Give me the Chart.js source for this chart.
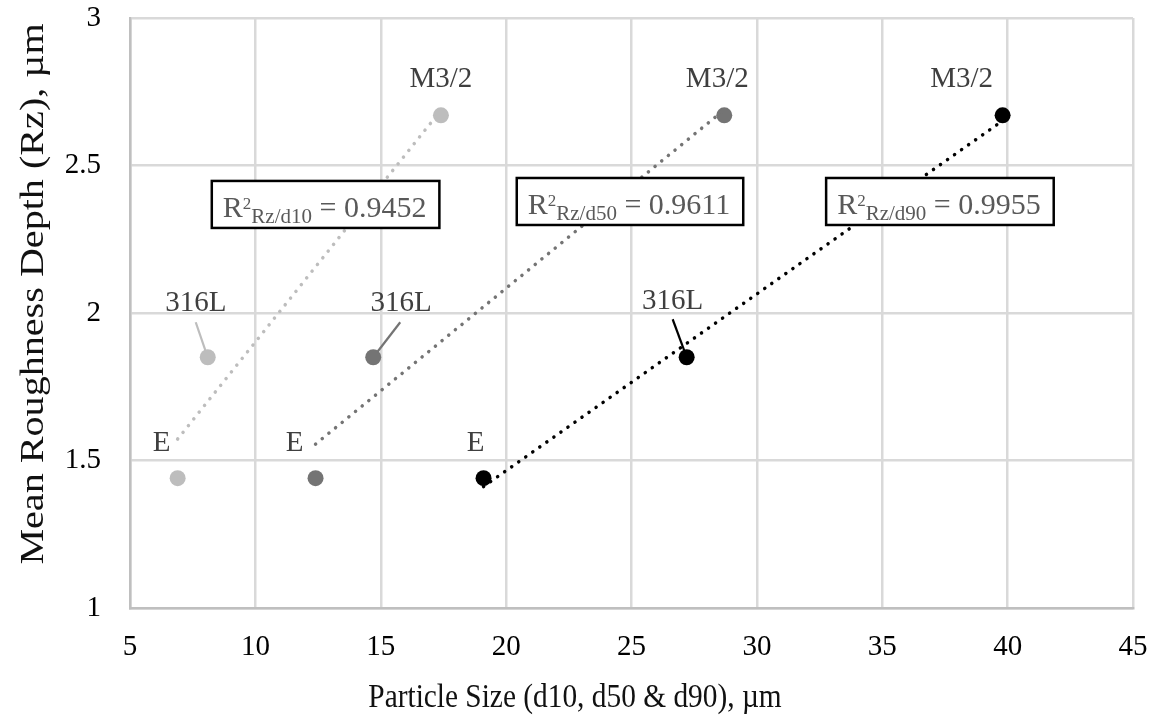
<!DOCTYPE html>
<html>
<head>
<meta charset="utf-8">
<script src="https://cdn.jsdelivr.net/npm/chart.js@4.4.0/dist/chart.umd.min.js"></script>
<style>
  html, body { margin: 0; padding: 0; background: #fff; }
  #wrap { width: 1153px; height: 718px; }
</style>
</head>
<body>
<div id="wrap"><canvas id="roughChart"></canvas></div>
<script>
// powders and their mean roughness depth Rz (um)
const powders = ["E", "316L", "M3/2"];
const roughnessRz = [1.44, 1.85, 2.67];

// particle size of each powder, um
const sizeD10 = [6.9, 8.1, 17.4];
const sizeD50 = [12.4, 14.7, 28.7];
const sizeD90 = [19.1, 27.2, 39.8];

// fit annotations
const fitNames = ["Rz/d10", "Rz/d50", "Rz/d90"];
const fitR2 = ["0.9452", "0.9611", "0.9955"];

const FONT = '"Liberation Serif", "Times New Roman", serif';
const seriesColors = ["#bdbdbd", "#747474", "#000000"];
const textGrey = "#3f3f3f";

// where the point labels sit, relative to each point (baseline centre)
const labelOffsets = [
  [[-16, -27], [-12, -46], [0, -28]],
  [[-21, -27], [28, -46], [-7, -28]],
  [[-8, -27], [-14, -48], [-41, -28]]
];
// start of the leader line drawn for the 316L labels
const leaderStarts = [[-12, -35], [27, -35], [-14, -38]];
// R² boxes, centred at these axis values
const boxCentres = [[12.8, 2.368], [24.94, 2.378], [37.3, 2.378]];

const sizeSets = [sizeD10, sizeD50, sizeD90];

// least squares line over the range of the data
function trend(xs, ys) {
  const n = xs.length;
  const mx = xs.reduce((a, b) => a + b, 0) / n;
  const my = ys.reduce((a, b) => a + b, 0) / n;
  let sxy = 0, sxx = 0;
  for (let i = 0; i < n; i++) {
    sxy += (xs[i] - mx) * (ys[i] - my);
    sxx += (xs[i] - mx) * (xs[i] - mx);
  }
  const k = sxy / sxx;
  const lo = Math.min(...xs), hi = Math.max(...xs);
  return [{ x: lo, y: my + k * (lo - mx) }, { x: hi, y: my + k * (hi - mx) }];
}

const datasets = [];
sizeSets.forEach((xs, i) => {
  datasets.push({
    type: "line",
    data: trend(xs, roughnessRz),
    borderColor: seriesColors[i],
    borderWidth: 3.5,
    borderDash: [0.1, 8.5],
    borderCapStyle: "round",
    pointRadius: 0,
    fill: false
  });
  datasets.push({
    type: "scatter",
    data: xs.map((x, j) => ({ x: x, y: roughnessRz[j] })),
    backgroundColor: seriesColors[i],
    borderWidth: 0,
    pointRadius: 8
  });
});

function drawR2Box(ctx, cx, cy, name, value) {
  const big = "30px " + FONT, sup = "17px " + FONT, sub = "21px " + FONT;
  ctx.font = big; const wR = ctx.measureText("R").width;
  ctx.font = sup; const w2 = ctx.measureText("2").width;
  ctx.font = sub; const wSub = ctx.measureText(name).width;
  ctx.font = big; const wVal = ctx.measureText(" = " + value).width;
  const textW = wR + w2 + wSub + wVal;
  const bw = textW + 24, bh = 47;
  const left = cx - bw / 2, top = cy - bh / 2;
  ctx.fillStyle = "#fff";
  ctx.fillRect(left, top, bw, bh);
  ctx.strokeStyle = "#000";
  ctx.lineWidth = 2.5;
  ctx.strokeRect(left, top, bw, bh);
  const base = top + 36;
  let x = left + 11;
  ctx.fillStyle = "#595959";
  ctx.textAlign = "left";
  ctx.textBaseline = "alphabetic";
  ctx.font = big; ctx.fillText("R", x, base); x += wR;
  ctx.font = sup; ctx.fillText("2", x, base - 8); x += w2;
  ctx.font = sub; ctx.fillText(name, x, base + 6); x += wSub;
  ctx.font = big; ctx.fillText(" = " + value, x, base);
}

const annotations = {
  id: "annotations",
  afterDatasetsDraw(chart) {
    const ctx = chart.ctx;
    const xs = chart.scales.x, ys = chart.scales.y;
    ctx.save();
    sizeSets.forEach((sizes, i) => {
      sizes.forEach((v, j) => {
        const px = xs.getPixelForValue(v), py = ys.getPixelForValue(roughnessRz[j]);
        const off = labelOffsets[i][j];
        ctx.font = "29px " + FONT;
        ctx.fillStyle = textGrey;
        ctx.textAlign = "center";
        ctx.textBaseline = "alphabetic";
        ctx.fillText(powders[j], px + off[0], py + off[1]);
        if (powders[j] === "316L") {
          const s = leaderStarts[i];
          const len = Math.hypot(s[0], s[1]);
          ctx.beginPath();
          ctx.moveTo(px + s[0], py + s[1]);
          ctx.lineTo(px + s[0] / len * 7, py + s[1] / len * 7);
          ctx.strokeStyle = seriesColors[i];
          ctx.lineWidth = 2.2;
          ctx.stroke();
        }
      });
      const c = boxCentres[i];
      drawR2Box(ctx, xs.getPixelForValue(c[0]), ys.getPixelForValue(c[1]), fitNames[i], fitR2[i]);
    });
    ctx.restore();
  },
  afterDraw(chart) {
    const ctx = chart.ctx;
    ctx.save();
    ctx.fillStyle = "#111";
    ctx.textAlign = "center";
    ctx.textBaseline = "alphabetic";
    // x axis title, set a little narrow
    ctx.font = "33px " + FONT;
    ctx.save();
    ctx.translate(575, 707);
    ctx.scale(0.89, 1);
    ctx.fillText("Particle Size (d10, d50 & d90), \u00b5m", 0, 0);
    ctx.restore();
    // y axis title
    ctx.font = "34px " + FONT;
    ctx.save();
    ctx.translate(43, 294);
    ctx.rotate(-Math.PI / 2);
    ctx.scale(1.18, 1);
    ctx.fillText("Mean Roughness Depth (Rz), \u00b5m", 0, 0);
    ctx.restore();
    ctx.restore();
  }
};

new Chart(document.getElementById("roughChart"), {
  type: "scatter",
  data: { datasets: datasets },
  options: {
    responsive: true,
    maintainAspectRatio: false,
    animation: false,
    layout: { padding: { top: 18, right: 20, left: 0, bottom: 0 } },
    plugins: { legend: { display: false }, tooltip: { enabled: false } },
    scales: {
      x: {
        type: "linear",
        min: 5,
        max: 45,
        ticks: { stepSize: 5, padding: 22, color: "#000", font: { family: FONT, size: 29 } },
        grid: { color: "#d9d9d9", lineWidth: 2.5, drawTicks: false },
        border: { color: "#bfbfbf", width: 2.5 },
        afterFit(s) { s.height = 110; s.paddingLeft = 0; s.paddingRight = 0; }
      },
      y: {
        min: 1,
        max: 3,
        ticks: {
          stepSize: 0.5, padding: 29, color: "#000",
          font: { family: FONT, size: 29 },
          callback: (v) => String(v)
        },
        grid: { color: "#d9d9d9", lineWidth: 2.5, drawTicks: false },
        border: { color: "#bfbfbf", width: 2.5 },
        afterFit(s) { s.width = 130; s.paddingTop = 0; s.paddingBottom = 0; }
      }
    }
  },
  plugins: [annotations]
});
</script>
</body>
</html>
